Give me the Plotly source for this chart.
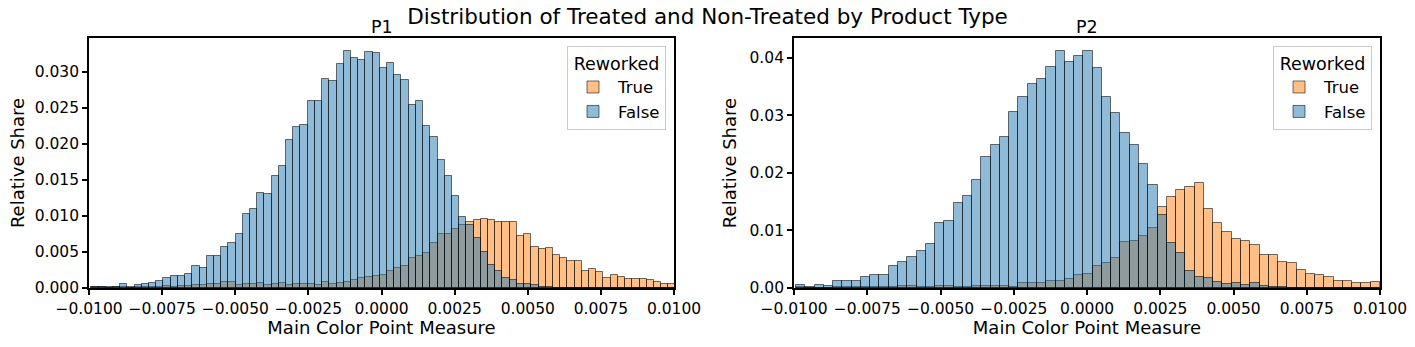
import numpy as np
import plotly.graph_objects as go

# histogram bins (data units)
P1_BIN_START = -0.009921
P1_BIN_WIDTH = 0.0002466
P2_BIN_START = -0.009932
P2_BIN_WIDTH = 0.0003164

# P1: relative share per bin
p1_false = [
    0.0001, 0.0002, 0.0002, 0.0002, 0.0005, 0.0002, 0.0004, 0.0005, 0.0007, 0.0010,
    0.0014, 0.0016, 0.0017, 0.0019, 0.0031, 0.0028, 0.0044, 0.0045, 0.0057, 0.0063,
    0.0075, 0.0103, 0.0110, 0.0132, 0.0130, 0.0156, 0.0169, 0.0206, 0.0224, 0.0226,
    0.0260, 0.0260, 0.0290, 0.0287, 0.0311, 0.0329, 0.0319, 0.0317, 0.0327, 0.0326,
    0.0305, 0.0312, 0.0296, 0.0289, 0.0254, 0.0260, 0.0225, 0.0210, 0.0178, 0.0155,
    0.0128, 0.0099, 0.0088, 0.0070, 0.0050, 0.0032, 0.0023, 0.0014, 0.0011, 0.0006,
    0.0005, 0.0004, 0.0002, 0.0001, 0.0000, 0.0000, 0.0000, 0.0000, 0.0000, 0.0000,
    0.0000, 0.0000, 0.0000, 0.0000, 0.0000, 0.0000, 0.0000, 0.0000, 0.0000, 0.0000,
    0.0000,
]
p1_true = [
    0.0001, 0.0001, 0.0000, 0.0001, 0.0001, 0.0000, 0.0001, 0.0001, 0.0002, 0.0002,
    0.0003, 0.0002, 0.0003, 0.0003, 0.0004, 0.0004, 0.0005, 0.0005, 0.0009, 0.0009,
    0.0004, 0.0005, 0.0006, 0.0007, 0.0004, 0.0005, 0.0007, 0.0004, 0.0005, 0.0005,
    0.0006, 0.0004, 0.0008, 0.0006, 0.0007, 0.0008, 0.0011, 0.0014, 0.0015, 0.0017,
    0.0018, 0.0023, 0.0028, 0.0031, 0.0042, 0.0044, 0.0048, 0.0062, 0.0075, 0.0075,
    0.0082, 0.0088, 0.0091, 0.0094, 0.0096, 0.0094, 0.0092, 0.0092, 0.0092, 0.0072,
    0.0075, 0.0057, 0.0054, 0.0056, 0.0046, 0.0041, 0.0037, 0.0038, 0.0024, 0.0026,
    0.0022, 0.0014, 0.0018, 0.0015, 0.0013, 0.0012, 0.0012, 0.0011, 0.0009, 0.0006,
    0.0005,
]

# P2: relative share per bin
p2_false = [
    0.0005, 0.0001, 0.0006, 0.0004, 0.0012, 0.0012, 0.0013, 0.0019, 0.0023, 0.0022,
    0.0039, 0.0045, 0.0053, 0.0064, 0.0076, 0.0112, 0.0117, 0.0147, 0.0159, 0.0188,
    0.0227, 0.0248, 0.0263, 0.0305, 0.0331, 0.0354, 0.0363, 0.0383, 0.0411, 0.0392,
    0.0403, 0.0411, 0.0382, 0.0331, 0.0303, 0.0269, 0.0248, 0.0215, 0.0178, 0.0126,
    0.0078, 0.0060, 0.0029, 0.0019, 0.0017, 0.0010, 0.0007, 0.0008, 0.0005, 0.0008,
    0.0003, 0.0002, 0.0001, 0.0000, 0.0000, 0.0000, 0.0000, 0.0000, 0.0000, 0.0000,
    0.0000, 0.0000, 0.0000,
]
p2_true = [
    0.0001, 0.0000, 0.0000, 0.0000, 0.0001, 0.0001, 0.0001, 0.0001, 0.0002, 0.0001,
    0.0002, 0.0004, 0.0004, 0.0002, 0.0002, 0.0004, 0.0004, 0.0002, 0.0001, 0.0003,
    0.0004, 0.0003, 0.0004, 0.0002, 0.0009, 0.0008, 0.0009, 0.0013, 0.0013, 0.0016,
    0.0022, 0.0025, 0.0038, 0.0043, 0.0052, 0.0079, 0.0081, 0.0090, 0.0105, 0.0140,
    0.0158, 0.0171, 0.0175, 0.0182, 0.0138, 0.0112, 0.0098, 0.0085, 0.0082, 0.0074,
    0.0057, 0.0057, 0.0046, 0.0043, 0.0031, 0.0024, 0.0022, 0.0019, 0.0012, 0.0013,
    0.0008, 0.0008, 0.0010,
]

x_ticks = [-0.01, -0.0075, -0.005, -0.0025, 0.0, 0.0025, 0.005, 0.0075, 0.01]
p1_y_ticks = [0.0, 0.005, 0.01, 0.015, 0.02, 0.025, 0.03]
p2_y_ticks = [0.0, 0.01, 0.02, 0.03, 0.04]

ORANGE = "rgba(255,127,14,0.5)"
BLUE = "rgba(31,119,180,0.5)"
EDGE = "rgba(0,0,0,0.55)"
FONT = "DejaVu Sans"

W, H = 1415, 347


def centers(start, width, n):
    return start + width * (np.arange(n) + 0.5)


fig = go.Figure()

panels = [
    ("x", "y", "legend", P1_BIN_START, P1_BIN_WIDTH, p1_true, p1_false),
    ("x2", "y2", "legend2", P2_BIN_START, P2_BIN_WIDTH, p2_true, p2_false),
]
for xa, ya, lg, start, width, true_vals, false_vals in panels:
    for name, vals, color in [("True", true_vals, ORANGE), ("False", false_vals, BLUE)]:
        fig.add_trace(go.Bar(
            x=centers(start, width, len(vals)),
            y=vals,
            width=width,
            name=name,
            marker=dict(color=color, line=dict(color=EDGE, width=1)),
            xaxis=xa, yaxis=ya, legend=lg,
        ))

axis_style = dict(
    showline=True, mirror=True, linecolor="black", linewidth=1.8,
    ticks="outside", ticklen=5, tickwidth=1.6, tickcolor="black",
    showgrid=False, zeroline=False, automargin=False,
    tickfont=dict(family=FONT, size=15.5, color="black"),
)
title_font = dict(family=FONT, size=18, color="black")

fig.update_layout(
    width=W, height=H,
    margin=dict(l=0, r=0, t=0, b=0, autoexpand=False),
    paper_bgcolor="white", plot_bgcolor="white",
    barmode="overlay", bargap=0,
    font=dict(family=FONT, color="black"),
    title=dict(text="Distribution of Treated and Non-Treated by Product Type",
               x=0.5, xanchor="center", y=1 - 16 / H, yanchor="middle", automargin=False,
               font=dict(family=FONT, size=21.5, color="black")),
    xaxis=dict(domain=[89 / W, 674 / W], range=[-0.01, 0.01], tickvals=x_ticks,
               tickformat=".4f", anchor="y",
               title=dict(text="Main Color Point Measure", font=title_font, standoff=4),
               **axis_style),
    yaxis=dict(domain=[(H - 288) / H, (H - 38) / H], range=[0, 0.0347], tickvals=p1_y_ticks,
               tickformat=".3f", anchor="x",
               title=dict(text="Relative Share", font=title_font, standoff=5),
               **axis_style),
    xaxis2=dict(domain=[794 / W, 1380 / W], range=[-0.01, 0.01], tickvals=x_ticks,
                tickformat=".4f", anchor="y2",
                title=dict(text="Main Color Point Measure", font=title_font, standoff=4),
                **axis_style),
    yaxis2=dict(domain=[(H - 288) / H, (H - 38) / H], range=[0, 0.0434], tickvals=p2_y_ticks,
                tickformat=".2f", anchor="x2",
                title=dict(text="Relative Share", font=title_font, standoff=8),
                **axis_style),
)

legend_style = dict(
    yanchor="top", xanchor="right", y=1 - 46 / H,
    bgcolor="rgba(255,255,255,0.8)", bordercolor="#cccccc", borderwidth=1,
    font=dict(family=FONT, size=16.5, color="black"),
    title=dict(text="Reworked", side="top center", font=dict(family=FONT, size=17.5, color="black")),
    traceorder="normal", itemwidth=40,
)
fig.update_layout(
    legend=dict(x=666 / W, **legend_style),
    legend2=dict(x=1372 / W, **legend_style),
)

for txt, cx in [("P1", (89 + 674) / 2), ("P2", (794 + 1380) / 2)]:
    fig.add_annotation(text=txt, x=cx / W, y=1 - 27 / H, xref="paper", yref="paper",
                       xanchor="center", yanchor="middle", showarrow=False,
                       font=dict(family=FONT, size=17.5, color="black"))

# drop the browser's default page margin so the figure sits at (0, 0)
fig.write_html("out.html", config={"displayModeBar": False},
               post_script="document.body.style.margin = '0';")
